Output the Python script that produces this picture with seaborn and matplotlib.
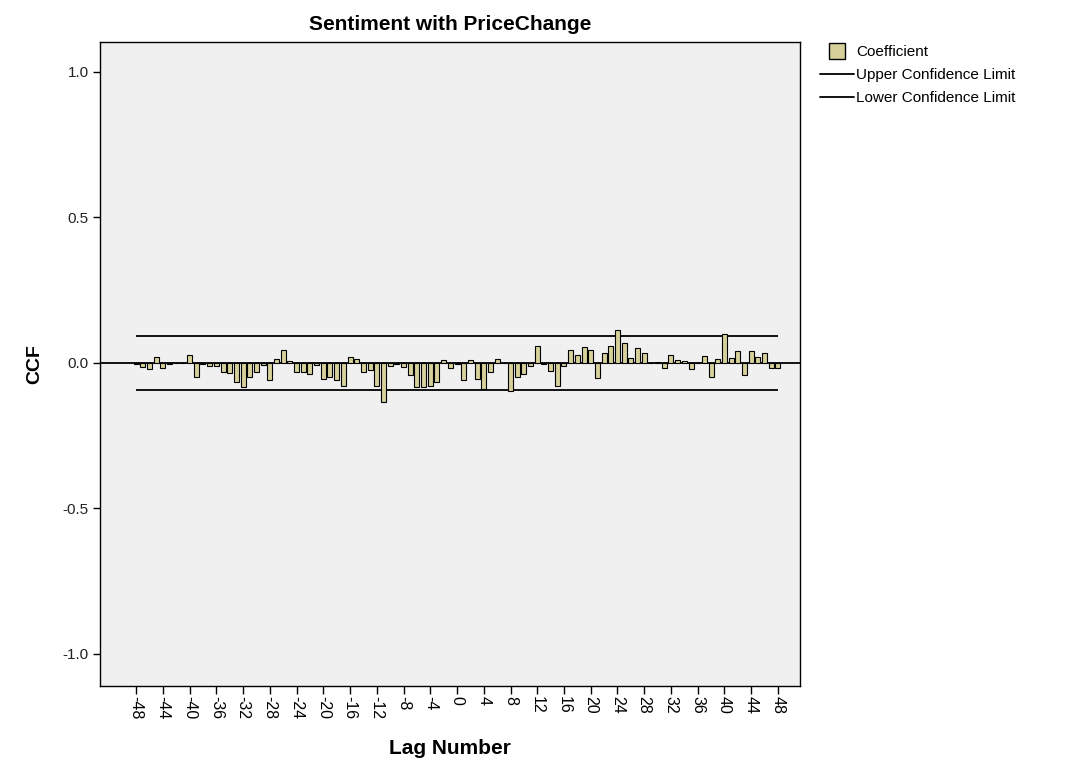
import numpy as np
import pandas as pd
import matplotlib
matplotlib.use("Agg")
import matplotlib.pyplot as plt
import seaborn as sns
from matplotlib.lines import Line2D

lags = list(range(-48, 49))
coefficient = [
    -0.003, -0.014, -0.020, 0.020, -0.018, -0.004, 0.000, 0.000, 0.026, -0.049,   # -48..-39
    -0.002, -0.010, -0.010, -0.032, -0.035, -0.066, -0.081, -0.049, -0.032, -0.006,  # -38..-29
    -0.060, 0.014, 0.045, 0.008, -0.032, -0.032, -0.037, -0.008, -0.055, -0.049,   # -28..-19
    -0.060, -0.078, 0.022, 0.014, -0.032, -0.024, -0.078, -0.133, -0.009, -0.003,   # -18..-9
    -0.014, -0.043, -0.083, -0.083, -0.078, -0.066, 0.011, -0.018, -0.004, -0.058,  # -8..1
    0.009, -0.055, -0.089, -0.032, 0.012, 0.000, -0.095, -0.049, -0.037, -0.012,    # 2..11
    0.058, -0.003, -0.026, -0.080, -0.012, 0.045, 0.029, 0.055, 0.045, -0.052,      # 12..21
    0.035, 0.058, 0.112, 0.069, 0.018, 0.052, 0.035, 0.000, 0.003, -0.018,          # 22..31
    0.026, 0.011, 0.006, -0.020, 0.000, 0.023, -0.047, 0.014, 0.100, 0.018,         # 32..41
    0.041, -0.040, 0.041, 0.020, 0.036, -0.017, -0.018,                            # 42..48
]
upper_limit = 0.094
lower_limit = -0.094
xtick_labels = list(range(-48, 49, 4))
ytick_values = [-1.0, -0.5, 0.0, 0.5, 1.0]

df = pd.DataFrame({"lag": lags, "ccf": coefficient})

sns.set_theme(style="white")
plt.rcParams["font.family"] = ["Liberation Sans", "DejaVu Sans"]
plt.rcParams["text.color"] = "black"
plt.rcParams["axes.labelcolor"] = "black"

fig = plt.figure(figsize=(10.7, 7.65), dpi=100)
ax = fig.add_axes([100 / 1070, 1 - 686 / 765, 700 / 1070, 644 / 765])
ax.set_facecolor("#f0f0f0")

bar_color = "#d6d19a"
sns.barplot(data=df, x="lag", y="ccf", native_scale=True, width=0.75,
            color=bar_color, edgecolor="black", linewidth=0.8,
            saturation=1, ax=ax, zorder=3)

ax.axhline(0, color="black", linewidth=1.3, zorder=2)
ax.hlines([upper_limit, lower_limit], lags[0], lags[-1], colors="black",
          linewidth=1.3, zorder=2)

ax.set_xlim(-53.4, 51.3)
ax.set_ylim(-1.11, 1.103)
ax.set_xticks(xtick_labels)
ax.set_xticklabels([str(v) for v in xtick_labels], rotation=-90, fontsize=11.5,
                   color="black")
ax.set_yticks(ytick_values)
ax.set_yticklabels([f"{v:.1f}" for v in ytick_values], fontsize=11, color="#222222")
ax.tick_params(axis="x", direction="out", length=6, width=1, color="black",
               bottom=True, pad=1)
ax.tick_params(axis="y", direction="out", length=5, width=1, color="black",
               left=True, pad=3)
for s in ax.spines.values():
    s.set_color("black")
    s.set_linewidth(1)

ax.set_xlabel("Lag Number", fontsize=15, fontweight="bold", labelpad=14)
ax.set_ylabel("CCF", fontsize=14, fontweight="bold", labelpad=14)
ax.set_title("Sentiment with PriceChange", fontsize=15, fontweight="bold", pad=9)

handles = [
    Line2D([], [], marker="s", markersize=11, markerfacecolor=bar_color,
           markeredgecolor="black", markeredgewidth=1, linestyle="None",
           label="Coefficient"),
    Line2D([0], [0], color="black", lw=1.3, label="Upper Confidence Limit"),
    Line2D([0], [0], color="black", lw=1.3, label="Lower Confidence Limit"),
]
fig.legend(handles=handles, loc="upper left", bbox_to_anchor=(820 / 1070, 1 - 45 / 765),
           frameon=False, fontsize=11, handlelength=2.2, handletextpad=0.15,
           labelspacing=0.6, borderaxespad=0, borderpad=0)

fig.savefig("out.png", dpi=100)
